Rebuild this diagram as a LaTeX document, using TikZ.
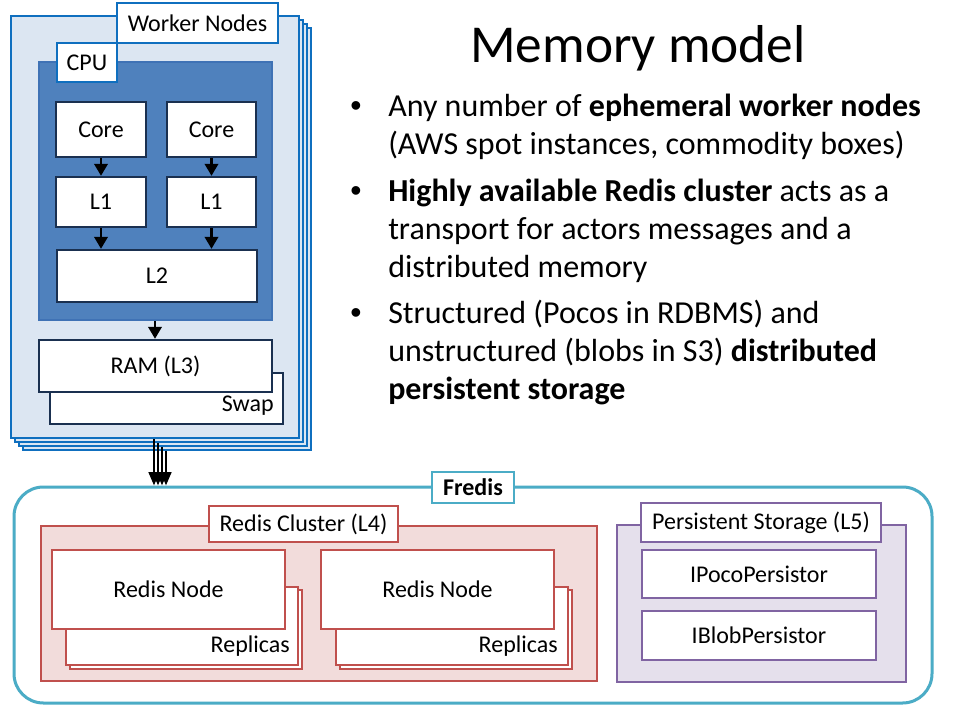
\documentclass[tikz,border=0pt]{standalone}
\usepackage{fontspec}
\setmainfont{Carlito}
\newfontfamily\bulletfont{Liberation Sans}
\usetikzlibrary{arrows.meta,fit}
\definecolor{wkfill}{HTML}{DCE6F2}
\definecolor{wkline}{HTML}{0F6FBF}
\definecolor{cpufill}{HTML}{4F81BD}
\definecolor{cpuline}{HTML}{3F72B5}
\definecolor{navy}{HTML}{1A3050}
\definecolor{teal}{HTML}{4BACC6}
\definecolor{redline}{HTML}{C0504D}
\definecolor{redfill}{HTML}{F2DCDB}
\definecolor{purline}{HTML}{8064A2}
\definecolor{purfill}{HTML}{E5E0EC}
\newcommand{\lblfont}{\fontsize{18}{21.6}\selectfont}
\newcommand{\bulfont}{\fontsize{24}{28.8}\selectfont}
\begin{document}
\begin{tikzpicture}[x=0.75pt,y=-0.75pt,
  wk/.style={draw=wkline, fill=wkfill, line width=1.5pt, inner sep=0pt},
  wklab/.style={draw=wkline, fill=white, line width=1.5pt, inner sep=0pt},
  cpubox/.style={draw=cpuline, fill=cpufill, line width=1.5pt, inner sep=0pt},
  inbox/.style={draw=navy, fill=white, line width=1.75pt, inner sep=0pt},
  ctext/.style={label={[font=\lblfont, inner sep=0pt]center:#1}},
  btext/.style={label={[font=\lblfont\bfseries, inner sep=0pt]center:#1}},
  sarrow/.style={-{Triangle[length=9pt,width=10pt]}, line width=2pt},
  barrow/.style={-{Triangle[length=10pt,width=8pt]}, line width=1.75pt},
  fredisbox/.style={draw=teal, line width=2.25pt, rounded corners=22pt, inner sep=0pt},
  fredislab/.style={draw=teal, fill=white, line width=1.5pt, inner sep=0pt},
  redbox/.style={draw=redline, fill=redfill, line width=1.5pt, inner sep=0pt},
  redin/.style={draw=redline, fill=white, line width=1.5pt, inner sep=0pt},
  purbox/.style={draw=purline, fill=purfill, line width=1.5pt, inner sep=0pt},
  purin/.style={draw=purline, fill=white, line width=1.5pt, inner sep=0pt},
  txt/.style={inner sep=0pt, font=\lblfont},
  bul/.style={inner sep=0pt, anchor=base west, font=\bulfont},
  dot/.style={inner sep=0pt, anchor=base, font=\bulletfont\fontsize{24}{28.8}\selectfont}
]
\useasboundingbox (0,0) rectangle (960,720);
\fill[white] (0,0) rectangle (960,720);

% Worker node stack
\node[wk, fit={(23,28) (311,450)}] (wk3) {};
\node[wk, fit={(19,24) (307,446)}] (wk2) {};
\node[wk, fit={(15,20) (303,442)}] (wk1) {};
\node[wk, fit={(11,16) (299,438)}] (wk0) {};
\node[wklab, fit={(117,3) (278,43)}, ctext=Worker Nodes] (wklabel) {};

% CPU
\node[cpubox, fit={(39,62) (272,320)}] (cpu) {};
\node[wklab, fit={(57,43) (117,82)}, ctext=CPU] (cpulabel) {};
\node[inbox, fit={(56,102) (146,157)}, ctext=Core] (core1) {};
\node[inbox, fit={(167,102) (256,157)}, ctext=Core] (core2) {};
\node[inbox, fit={(56,177) (146,227)}, ctext=L1] (l1a) {};
\node[inbox, fit={(167,177) (256,227)}, ctext=L1] (l1b) {};
\node[inbox, fit={(57,250) (257,302)}, ctext=L2] (l2) {};
\draw[sarrow] (core1) -- (l1a);
\draw[sarrow] (core2) -- (l1b);
\draw[sarrow] (l1a.south) -- (l1a.south |- l2.north);
\draw[sarrow] (l1b.south) -- (l1b.south |- l2.north);

% RAM / Swap
\node[inbox, fit={(50,373) (283,424)}] (swap) {};
\node[txt, anchor=east] (swaplabel) at (274,406) {Swap};
\node[inbox, fit={(39,340) (272,392)}, ctext=RAM (L3)] (ram) {};
\draw[sarrow] (cpu.south -| 155,0) -- (ram.north -| 155,0);

% Fredis
\node[fredisbox, fit={(14,487) (932,703)}] (fredis) {};
\node[fredislab, fit={(432,472) (514,503)}, btext=Fredis] (fredislabel) {};

% arrows worker -> fredis
\draw[barrow] ([xshift=108pt]wk0.south west) -- ([xshift=108pt]wk0.south west |- fredis.north);
\draw[barrow] ([xshift=108pt]wk1.south west) -- ([xshift=108pt]wk1.south west |- fredis.north);
\draw[barrow] ([xshift=108pt]wk2.south west) -- ([xshift=108pt]wk2.south west |- fredis.north);
\draw[barrow] ([xshift=108pt]wk3.south west) -- ([xshift=108pt]wk3.south west |- fredis.north);

% Redis cluster
\node[redbox, fit={(41,526) (597,681)}] (redis) {};
\node[redin, fit={(209,506) (398,542)}, ctext=Redis Cluster (L4)] (redislabel) {};
\node[redin, fit={(70,590) (302,669)}] (rep1b) {};
\node[redin, fit={(66,587) (298,665)}] (rep1) {};
\node[txt, anchor=east] (rep1label) at (290,646) {Replicas};
\node[redin, fit={(52,550) (285,629)}, ctext=Redis Node] (rn1) {};
\node[redin, fit={(340,590) (572,669)}] (rep2b) {};
\node[redin, fit={(336,587) (568,665)}] (rep2) {};
\node[txt, anchor=east] (rep2label) at (558,646) {Replicas};
\node[redin, fit={(321,550) (554,629)}, ctext=Redis Node] (rn2) {};

% Persistent storage
\node[purbox, fit={(617,525) (906,682)}] (pers) {};
\node[purin, fit={(641,503) (881,542)}, ctext=Persistent Storage (L5)] (perslabel) {};
\node[purin, fit={(642,550) (876,598)}, ctext=IPocoPersistor] (ipoco) {};
\node[purin, fit={(642,611) (876,660)}, ctext=IBlobPersistor] (iblob) {};

% Title and bullets
\node[inner sep=0pt, anchor=base, font=\fontsize{40}{48}\selectfont] (title) at (638,63) {Memory model};
\node[dot] (b1) at (356,117) {•};
\node[dot] (b2) at (356,202) {•};
\node[dot] (b3) at (356,323) {•};
\node[bul] (t1) at (388,117) {Any number of \textbf{ephemeral worker nodes}};
\node[bul] (t2) at (388,155) {(AWS spot instances, commodity boxes)};
\node[bul] (t3) at (388,202) {\textbf{Highly available Redis cluster} acts as a};
\node[bul] (t4) at (388,240) {transport for actors messages and a};
\node[bul] (t5) at (388,278) {distributed memory};
\node[bul] (t6) at (388,323) {Structured (Pocos in RDBMS) and};
\node[bul] (t7) at (388,361) {unstructured (blobs in S3) \textbf{distributed}};
\node[bul] (t8) at (388,399) {\textbf{persistent storage}};
\end{tikzpicture}
\end{document}
